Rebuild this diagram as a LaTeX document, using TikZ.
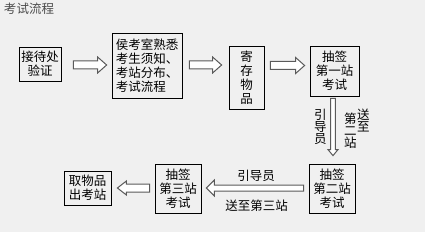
\documentclass[tikz,border=0pt]{standalone}
\usepackage{fontspec}
\setmainfont{Noto Sans CJK SC}
\usetikzlibrary{calc,positioning}
\definecolor{ExamBack}{HTML}{F0F0F0}
\definecolor{ExamArrow}{HTML}{5A5A5A}

% hollow block arrow from tail to tip: [style]{tail}{tip}{shaft half}{head half}{head length}
\newcommand{\hollowarrow}[6][]{%
  \path (#2) coordinate (ha-s) (#3) coordinate (ha-e);
  \path ($(ha-e)!#6!(ha-s)$) coordinate (ha-h);
  \draw[blockarr,#1] ($(ha-s)!#4!90:(ha-e)$) -- ($(ha-h)!#4!90:(ha-e)$)
    -- ($(ha-h)!#5!90:(ha-e)$) -- (ha-e) -- ($(ha-h)!#5!-90:(ha-e)$)
    -- ($(ha-h)!#4!-90:(ha-e)$) -- ($(ha-s)!#4!-90:(ha-e)$) -- cycle;
}

\begin{document}
\begin{tikzpicture}[
  x=1pt, y=-1pt,
  stepbox/.style={draw=black, line width=0.8pt, align=center, inner sep=0pt,
    font=\fontsize{12.5}{14}\selectfont},
  blockarr/.style={draw=ExamArrow, line width=1pt, fill=white, line join=miter},
  lbl/.style={inner sep=0pt, align=center, font=\fontsize{12.5}{12}\selectfont}
]
\fill[ExamBack] (0,0) rectangle (425,232);
\useasboundingbox (0,0) rectangle (425,232);

\node[inner sep=0pt, text=black!70, font=\fontsize{12.5}{14}\selectfont] (title) at (29,9) {考试流程};

\node[stepbox, minimum width=42pt, minimum height=34pt] (reception) at (40,64) {接待处\\验证};
\node[stepbox, align=left, minimum width=70pt, minimum height=65pt] (briefing) at (147,65.5) {侯考室熟悉\\考生须知、\\考站分布、\\考试流程};
\node[stepbox, minimum width=35pt, minimum height=63pt] (storage) at (246.5,77.5) {寄\\存\\物\\品};
\node[stepbox, minimum width=49pt, minimum height=50pt] (station1) at (334.5,71) {抽签\\第一站\\考试};
\node[stepbox, minimum width=46pt, minimum height=49pt] (station2) at (332,188.5) {抽签\\第二站\\考试};
\node[stepbox, minimum width=46pt, minimum height=49pt] (station3) at (178,188.5) {抽签\\第三站\\考试};
\node[stepbox, minimum width=47pt, minimum height=34pt] (exit) at (87.5,188) {取物品\\出考站};

% connectors
\hollowarrow{$(reception.east)+(12,1)$}{$(briefing.west)+(-5,-0.5)$}{4pt}{8pt}{9pt}
\hollowarrow{$(briefing.east)+(7,-0.5)$}{$(storage.west)+(-7,-12.5)$}{4pt}{8pt}{9pt}
\hollowarrow{$(storage.east)+(6,-12)$}{$(station1.west)+(-5,-5.5)$}{4pt}{8pt}{9pt}
\hollowarrow{$(station1.south)+(-1.5,2)$}{$(station2.north)+(1,-8)$}{2.3pt}{5pt}{6pt}
\hollowarrow{$(station2.west)+(-5,-0.5)$}{$(station3.east)+(5,-0.5)$}{3pt}{8pt}{8pt}
\hollowarrow{$(station3.west)+(-5,-0.5)$}{$(exit.east)+(6,0)$}{4pt}{7pt}{9pt}

% labels
\node[lbl] (guide1) at ($(station1.south)!0.5!(station2.north)+(-13,-3)$) {引\\导\\员};
\node[lbl] (to2b) at ($(station1.south)!0.5!(station2.north)+(17,0.5)$) {第\\二\\站};
\node[lbl] (to2a) at ($(station1.south)!0.5!(station2.north)+(30,-9.5)$) {送\\至};
\node[lbl] (guide2) at ($(station3.east)!0.5!(station2.west)+(1,-12.5)$) {引导员};
\node[lbl] (to3) at ($(station3.east)!0.5!(station2.west)+(1.5,17.5)$) {送至第三站};
\end{tikzpicture}
\end{document}
